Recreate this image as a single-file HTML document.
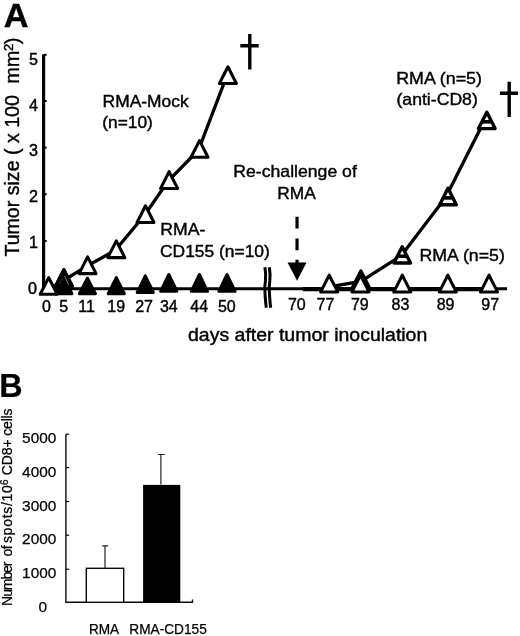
<!DOCTYPE html>
<html><head><meta charset="utf-8"><title>Figure</title>
<style>
html,body{margin:0;padding:0;background:#fff;}
svg{display:block;}
text{font-family:"Liberation Sans",Arial,Helvetica,sans-serif;fill:#000;}
.pa text{stroke:#000;stroke-width:0.4px;}
.pb text{stroke:#000;stroke-width:0.25px;}
</style></head><body>
<svg width="520" height="636" viewBox="0 0 520 636">
<rect width="520" height="636" fill="#fff"/>

<g class="pa">
<text transform="translate(3.8,26.6) scale(1.04,1)" font-size="33" font-weight="bold">A</text>
<line x1="43.6" y1="54.5" x2="43.6" y2="290.2" stroke="#000" stroke-width="3.2"/>
<line x1="42" y1="288.7" x2="507" y2="288.7" stroke="#000" stroke-width="3.1"/>
<line x1="302.8" y1="289.1" x2="490" y2="289.1" stroke="#000" stroke-width="4.4"/>
<line x1="43.6" y1="54.8" x2="46.6" y2="54.8" stroke="#000" stroke-width="2"/>
<line x1="43.6" y1="101" x2="46.6" y2="101" stroke="#000" stroke-width="2"/>
<line x1="43.6" y1="147.6" x2="46.6" y2="147.6" stroke="#000" stroke-width="2"/>
<line x1="43.6" y1="194.2" x2="46.6" y2="194.2" stroke="#000" stroke-width="2"/>
<line x1="43.6" y1="241" x2="46.6" y2="241" stroke="#000" stroke-width="2"/>
<text x="38" y="64.6" font-size="16.2" text-anchor="end">5</text>
<text x="38" y="110.5" font-size="16.2" text-anchor="end">4</text>
<text x="38" y="156.3" font-size="16.2" text-anchor="end">3</text>
<text x="38" y="202.2" font-size="16.2" text-anchor="end">2</text>
<text x="38" y="248.0" font-size="16.2" text-anchor="end">1</text>
<text x="36.9" y="293.9" font-size="16.2" text-anchor="end">0</text>
<text transform="translate(18.9,256.6) rotate(-90)" font-size="20" textLength="161.5" lengthAdjust="spacingAndGlyphs">Tumor size ( x 100</text>
<text transform="translate(18.9,83.8) rotate(-90)" font-size="20">mm</text>
<text transform="translate(13.2,50.9) rotate(-90)" font-size="13">2</text>
<text transform="translate(18.9,44.2) rotate(-90)" font-size="20">)</text>
<path d="M264.9 267.3 C265.8 272 265.8 277 265.4 281 C264.6 285 264.6 290 265.1 295 C265.5 300 265.7 304 266.3 307.8" fill="none" stroke="#000" stroke-width="3"/>
<path d="M269.3 267.3 C270.2 272 270.2 277 269.8 281 C269.0 285 269.0 290 269.5 295 C269.9 300 270.1 304 270.7 307.8" fill="none" stroke="#000" stroke-width="3"/>
<polyline points="48.7,289 63.4,280.5 86.6,266.3 115.3,250.3 144.5,215.2 168.1,181.1 198.5,150 226.7,76.2" fill="none" stroke="#000" stroke-width="3.3" stroke-linejoin="round"/>
<polyline points="329.2,286.8 360.9,281.4 401.0,255.9 445.6,197.6 484.0,121.5" fill="none" stroke="#000" stroke-width="3.3" stroke-linejoin="round"/>
<polygon points="63.90,269.60 72.40,286.30 55.40,286.30" fill="#fff" stroke="#000" stroke-width="3.05" stroke-linejoin="round"/>
<polygon points="87.60,256.90 96.10,273.60 79.10,273.60" fill="#fff" stroke="#000" stroke-width="3.05" stroke-linejoin="round"/>
<polygon points="116.30,240.90 124.80,257.60 107.80,257.60" fill="#fff" stroke="#000" stroke-width="3.05" stroke-linejoin="round"/>
<polygon points="145.50,205.80 154.00,222.50 137.00,222.50" fill="#fff" stroke="#000" stroke-width="3.05" stroke-linejoin="round"/>
<polygon points="169.10,171.70 177.60,188.40 160.60,188.40" fill="#fff" stroke="#000" stroke-width="3.05" stroke-linejoin="round"/>
<polygon points="199.50,140.60 208.00,157.30 191.00,157.30" fill="#fff" stroke="#000" stroke-width="3.05" stroke-linejoin="round"/>
<polygon points="227.90,66.80 236.40,83.50 219.40,83.50" fill="#fff" stroke="#000" stroke-width="3.05" stroke-linejoin="round"/>
<polygon points="63.90,269.60 72.40,286.30 55.40,286.30" fill="#000" stroke="#000" stroke-width="3.05" stroke-linejoin="round"/>
<polygon points="63.85,278.00 71.95,293.70 55.75,293.70" fill="#000" stroke="#000" stroke-width="3" stroke-linejoin="round"/>
<polygon points="87.40,278.20 95.50,293.70 79.30,293.70" fill="#000" stroke="#000" stroke-width="3" stroke-linejoin="round"/>
<polygon points="116.30,277.60 124.40,293.70 108.20,293.70" fill="#000" stroke="#000" stroke-width="3" stroke-linejoin="round"/>
<polygon points="145.30,275.90 153.40,292.50 137.20,292.50" fill="#000" stroke="#000" stroke-width="3" stroke-linejoin="round"/>
<polygon points="168.80,274.50 176.90,291.20 160.70,291.20" fill="#000" stroke="#000" stroke-width="3" stroke-linejoin="round"/>
<polygon points="199.40,274.50 207.50,291.30 191.30,291.30" fill="#000" stroke="#000" stroke-width="3" stroke-linejoin="round"/>
<polygon points="227.00,274.50 235.10,291.30 218.90,291.30" fill="#000" stroke="#000" stroke-width="3" stroke-linejoin="round"/>
<path d="M64.6 276.2 L68.6 284.6" stroke="#999" stroke-width="0.8" fill="none"/><path d="M62.6 277.4 L59.6 284.0" stroke="#555" stroke-width="0.5" fill="none"/>
<polygon points="48.70,277.60 57.20,294.30 40.20,294.30" fill="#fff" stroke="#000" stroke-width="3.05" stroke-linejoin="round"/>
<polygon points="360.90,270.95 369.20,287.30 352.60,287.30" fill="#fff" stroke="#000" stroke-width="3.4" stroke-linejoin="round"/><line x1="356.05" y1="280.50" x2="365.75" y2="280.50" stroke="#000" stroke-width="3.6"/>
<polygon points="402.20,246.65 410.50,263.00 393.90,263.00" fill="#fff" stroke="#000" stroke-width="3.4" stroke-linejoin="round"/><line x1="397.35" y1="256.20" x2="407.05" y2="256.20" stroke="#000" stroke-width="3.6"/>
<polygon points="448.00,188.35 456.30,204.70 439.70,204.70" fill="#fff" stroke="#000" stroke-width="3.4" stroke-linejoin="round"/><line x1="443.15" y1="197.90" x2="452.85" y2="197.90" stroke="#000" stroke-width="3.6"/>
<polygon points="486.80,112.25 495.10,128.60 478.50,128.60" fill="#fff" stroke="#000" stroke-width="3.4" stroke-linejoin="round"/><line x1="481.95" y1="121.80" x2="491.65" y2="121.80" stroke="#000" stroke-width="3.6"/>
<polygon points="329.20,275.20 337.70,291.90 320.70,291.90" fill="#fff" stroke="#000" stroke-width="3.05" stroke-linejoin="round"/>
<polygon points="360.50,275.20 369.00,291.90 352.00,291.90" fill="#fff" stroke="#000" stroke-width="3.05" stroke-linejoin="round"/>
<polygon points="402.30,275.20 410.80,291.90 393.80,291.90" fill="#fff" stroke="#000" stroke-width="3.05" stroke-linejoin="round"/>
<polygon points="447.80,275.20 456.30,291.90 439.30,291.90" fill="#fff" stroke="#000" stroke-width="3.05" stroke-linejoin="round"/>
<polygon points="489.00,275.20 497.50,291.90 480.50,291.90" fill="#fff" stroke="#000" stroke-width="3.05" stroke-linejoin="round"/>
<text x="46.4" y="311.8" font-size="16" text-anchor="middle">0</text>
<text x="63.8" y="311.8" font-size="16" text-anchor="middle">5</text>
<text x="86.6" y="311.8" font-size="16" text-anchor="middle">11</text>
<text x="116.2" y="311.8" font-size="16" text-anchor="middle">19</text>
<text x="144.1" y="311.8" font-size="16" text-anchor="middle">27</text>
<text x="168.8" y="311.8" font-size="16" text-anchor="middle">34</text>
<text x="199.2" y="311.8" font-size="16" text-anchor="middle">44</text>
<text x="226.8" y="311.9" font-size="16" text-anchor="middle">50</text>
<text x="296.8" y="309.8" font-size="16" text-anchor="middle">70</text>
<text x="325.4" y="310" font-size="16" text-anchor="middle">77</text>
<text x="359.8" y="310" font-size="16" text-anchor="middle">79</text>
<text x="400.4" y="310" font-size="16" text-anchor="middle">83</text>
<text x="445.6" y="310" font-size="16" text-anchor="middle">89</text>
<text x="490.2" y="310" font-size="16" text-anchor="middle">97</text>
<text x="188" y="340.8" font-size="18" textLength="239.3" lengthAdjust="spacingAndGlyphs">days after tumor inoculation</text>
<text x="102.6" y="106.9" font-size="16.5" textLength="86" lengthAdjust="spacingAndGlyphs">RMA-Mock</text>
<text x="102.3" y="127.9" font-size="16.5" textLength="50.5" lengthAdjust="spacingAndGlyphs">(n=10)</text>
<text x="160.3" y="234.6" font-size="16.5" textLength="45" lengthAdjust="spacingAndGlyphs">RMA-</text>
<text x="160" y="256.5" font-size="16.5" textLength="109.8" lengthAdjust="spacingAndGlyphs">CD155 (n=10)</text>
<text x="233.3" y="177.3" font-size="16.5" textLength="123.5" lengthAdjust="spacingAndGlyphs">Re-challenge of</text>
<text x="277.3" y="198.6" font-size="16.5" textLength="38.5" lengthAdjust="spacingAndGlyphs">RMA</text>
<text x="396.2" y="83.7" font-size="16.5" textLength="85.8" lengthAdjust="spacingAndGlyphs">RMA (n=5)</text>
<text x="396.5" y="105" font-size="16.5" textLength="81.3" lengthAdjust="spacingAndGlyphs">(anti-CD8)</text>
<text x="419.5" y="260.7" font-size="16.5" textLength="85.3" lengthAdjust="spacingAndGlyphs">RMA (n=5)</text>
<path d="M249.8 34.1 V69.5 M240.3 45.8 H258.7" stroke="#000" stroke-width="3.4" fill="none"/>
<path d="M509.2 81.8 V117 M499.9 93.3 H517.9" stroke="#000" stroke-width="3.4" fill="none"/>
<path d="M297.05 216.8 V228.4 M297.05 238.4 V250.2 M297.05 259.8 V266" stroke="#000" stroke-width="3.2" fill="none"/>
<polygon points="287.5,262.5 306.5,262.5 297.1,280.8" fill="#000"/>
</g>
<g class="pb">
<text transform="translate(-0.8,396.7) scale(0.98,1)" font-size="33" font-weight="bold">B</text>
<path d="M65.9 434.2 V602.3 H192.5 V599.4" fill="none" stroke="#0a0a0a" stroke-width="1.4"/>
<line x1="66" y1="434.2" x2="69.2" y2="434.2" stroke="#0a0a0a" stroke-width="1.2"/>
<line x1="66" y1="467.6" x2="69.2" y2="467.6" stroke="#0a0a0a" stroke-width="1.2"/>
<line x1="66" y1="501.5" x2="69.2" y2="501.5" stroke="#0a0a0a" stroke-width="1.2"/>
<line x1="66" y1="535.2" x2="69.2" y2="535.2" stroke="#0a0a0a" stroke-width="1.2"/>
<line x1="66" y1="569.2" x2="69.2" y2="569.2" stroke="#0a0a0a" stroke-width="1.2"/>
<text x="22.1" y="442.9" font-size="15" textLength="34.2" lengthAdjust="spacingAndGlyphs">5000</text>
<text x="22.1" y="476.7" font-size="15" textLength="34.2" lengthAdjust="spacingAndGlyphs">4000</text>
<text x="22.1" y="510.5" font-size="15" textLength="34.2" lengthAdjust="spacingAndGlyphs">3000</text>
<text x="22.1" y="544.3" font-size="15" textLength="34.2" lengthAdjust="spacingAndGlyphs">2000</text>
<text x="22.1" y="578.1" font-size="15" textLength="34.2" lengthAdjust="spacingAndGlyphs">1000</text>
<text x="38.6" y="612.0" font-size="15" textLength="8.6" lengthAdjust="spacingAndGlyphs">0</text>
<rect x="86.3" y="568.3" width="37.4" height="34" fill="#fff" stroke="#0a0a0a" stroke-width="1.4"/>
<rect x="143.1" y="484.9" width="37.2" height="117.8" fill="#000"/>
<path d="M105 568 V545.9 M102.2 545.9 H108.2" stroke="#222" stroke-width="1.2" fill="none"/>
<path d="M160.9 484.6 V454.5 M158 454.5 H164.8" stroke="#222" stroke-width="1.2" fill="none"/>
<text x="88.9" y="634.4" font-size="13.8" textLength="30.3" lengthAdjust="spacingAndGlyphs">RMA</text>
<text x="129.3" y="634.4" font-size="13.8" textLength="77.5" lengthAdjust="spacingAndGlyphs">RMA-CD155</text>
<text transform="translate(11.8,605.9) rotate(-90)" font-size="14" textLength="44.4" lengthAdjust="spacing">Number</text>
<text transform="translate(11.8,556.5) rotate(-90)" font-size="14" textLength="11.2" lengthAdjust="spacing">of</text>
<text transform="translate(11.8,543.1) rotate(-90)" font-size="14" textLength="58" lengthAdjust="spacing">spots/10</text>
<text transform="translate(8.1,484.9) rotate(-90)" font-size="10">6</text>
<text transform="translate(11.8,475.2) rotate(-90)" font-size="14" textLength="66.8" lengthAdjust="spacing">CD8+ cells</text>
</g>
</svg></body></html>
